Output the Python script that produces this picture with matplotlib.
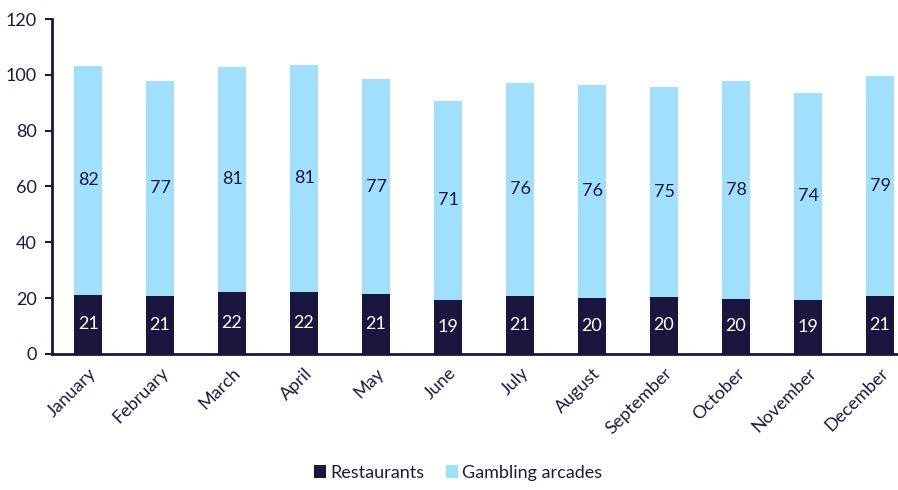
import matplotlib.pyplot as plt
import numpy as np

months = ["January", "February", "March", "April", "May", "June", "July",
          "August", "September", "October", "November", "December"]
restaurants = [21.1, 20.8, 22.2, 22.2, 21.4, 19.4, 20.8, 20.1, 20.4, 19.7, 19.4, 20.8]
arcades = [82.1, 77.0, 80.7, 81.4, 77.1, 71.4, 76.4, 76.3, 75.3, 78.1, 74.1, 78.8]

navy = "#19173f"
light = "#a0e0fc"
txt = "#1c1a45"

plt.rcParams['font.family'] = ['Lato', 'DejaVu Sans']

fig = plt.figure(figsize=(8.98, 4.9), dpi=100)
ax = fig.add_axes([0.058, 0.278, 0.942, 0.683])

x = np.arange(len(months))
w = 0.4
b1 = ax.bar(x, restaurants, w, color=navy, label="Restaurants")
b2 = ax.bar(x, arcades, w, bottom=restaurants, color=light, label="Gambling arcades")

for i in range(len(months)):
    ax.text(x[i], restaurants[i] / 2, f"{restaurants[i]:.0f}", ha="center", va="center",
            color="white", fontsize=13)
    ax.text(x[i], restaurants[i] + arcades[i] / 2, f"{arcades[i]:.0f}", ha="center",
            va="center", color=txt, fontsize=13)

ax.set_ylim(0, 120)
ax.set_yticks(range(0, 121, 20))
ax.set_xlim(-0.5, 11.25)
ax.set_xticks(x)
ax.set_xticklabels(months, rotation=45, ha="right", rotation_mode="anchor")
ax.tick_params(axis="x", length=0, pad=8, labelsize=13, colors=txt)
ax.tick_params(axis="y", length=5, width=1.5, labelsize=13, colors=txt, pad=6)
for s in ["top", "right"]:
    ax.spines[s].set_visible(False)
for s in ["left", "bottom"]:
    ax.spines[s].set_color(navy)
    ax.spines[s].set_linewidth(2)

fig.legend(handles=[b1, b2], loc="lower center", bbox_to_anchor=(0.51, -0.015), ncol=2,
           frameon=False, fontsize=13, handlelength=0.7, handleheight=0.7,
           handletextpad=0.2, columnspacing=1.2, labelcolor=txt)

fig.savefig("out.png", dpi=100)
